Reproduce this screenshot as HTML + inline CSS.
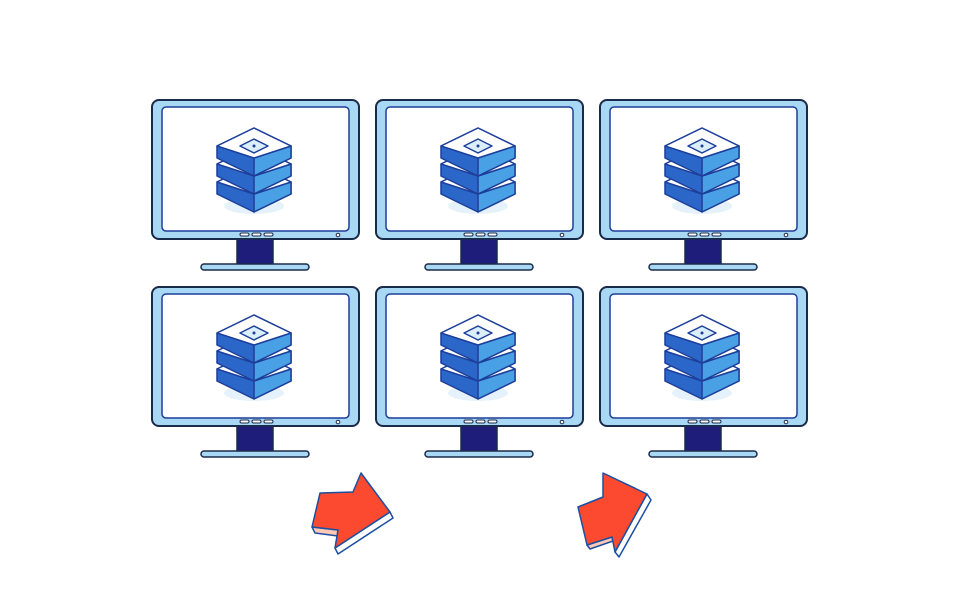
<!DOCTYPE html>
<html><head><style>body{margin:0;background:#fff}svg{display:block}</style></head><body>
<svg width="960" height="600" viewBox="0 0 960 600" xmlns="http://www.w3.org/2000/svg">
<defs>
<g id="srv">
  <ellipse cx="0" cy="60" rx="30" ry="8" fill="#e6f2fb"/>
  <g stroke="#1d3f9a" stroke-width="1.5" stroke-linejoin="round">
  <g transform="translate(0,36)">
    <path d="M-37,0 L0,-18 L37,0 L37,12 L0,30 L-37,12Z" fill="#2b67c9"/>
    <path d="M0,12 L37,0 L37,12 L0,30Z" fill="#4aa0e4"/>
    <path d="M-37,0 L0,-18 L37,0 L0,12Z" fill="#fff"/>
  </g>
  <g transform="translate(0,18)">
    <path d="M-37,0 L0,-18 L37,0 L37,12 L0,30 L-37,12Z" fill="#2b67c9"/>
    <path d="M0,12 L37,0 L37,12 L0,30Z" fill="#4aa0e4"/>
    <path d="M-37,0 L0,-18 L37,0 L0,12Z" fill="#fff"/>
  </g>
  <g>
    <path d="M-37,0 L0,-18 L37,0 L37,12 L0,30 L-37,12Z" fill="#2b67c9"/>
    <path d="M0,12 L37,0 L37,12 L0,30Z" fill="#4aa0e4"/>
    <path d="M-37,0 L0,-18 L37,0 L0,12Z" fill="#fff"/>
    <path d="M-14,0 L0,-7 L14,0 L0,7Z" fill="#dbeefc"/>
  </g>
  </g>
  <circle cx="0" cy="0" r="1.5" fill="#1d3f9a"/>
</g>
<g id="mon">
  <rect x="1" y="1" width="207" height="139" rx="7" fill="#a9d8f4" stroke="#1a2a4a" stroke-width="2"/>
  <rect x="11" y="8" width="187" height="124" rx="4" fill="#fff" stroke="#1d3f9a" stroke-width="1.5"/>
  <rect x="86" y="140" width="36" height="26" fill="#1e1e7a" stroke="#1a2a4a" stroke-width="1.5"/>
  <rect x="50" y="165" width="108" height="6" rx="3" fill="#a9d8f4" stroke="#1a2a4a" stroke-width="1.5"/>
  <rect x="89" y="134" width="9" height="3" rx="1.5" fill="#fff" stroke="#1a2a4a"/>
  <rect x="101" y="134" width="9" height="3" rx="1.5" fill="#fff" stroke="#1a2a4a"/>
  <rect x="113" y="134" width="9" height="3" rx="1.5" fill="#fff" stroke="#1a2a4a"/>
  <circle cx="187" cy="136" r="1.8" fill="#fff" stroke="#1a2a4a"/>
  <use href="#srv" transform="translate(103,47)"/>
</g>
</defs>
<use href="#mon" x="151" y="99"/>
<use href="#mon" x="375" y="99"/>
<use href="#mon" x="599" y="99"/>
<use href="#mon" x="151" y="286"/>
<use href="#mon" x="375" y="286"/>
<use href="#mon" x="599" y="286"/>
<g stroke="#1d4fa0" stroke-width="1.5" stroke-linejoin="round">
  <path d="M390,512 L393,518 L338,554 L335,548Z" fill="#fff"/>
  <path d="M312,527 L315,533 L338,536 L338,530Z" fill="#ffc9b8"/>
  <path d="M320,493 L353,492 L361,473 L390,512 L335,548 L338,530 L312,527Z" fill="#fb4a2f"/>
  <path d="M647,494 L651,500 L619,557 L615,552Z" fill="#fff"/>
  <path d="M587,545 L590,549 L613,541 L612,537Z" fill="#ffc9b8"/>
  <path d="M578,507 L603,497 L603,473 L647,494 L615,552 L612,537 L587,545Z" fill="#fb4a2f"/>
</g>
</svg>
</body></html>
